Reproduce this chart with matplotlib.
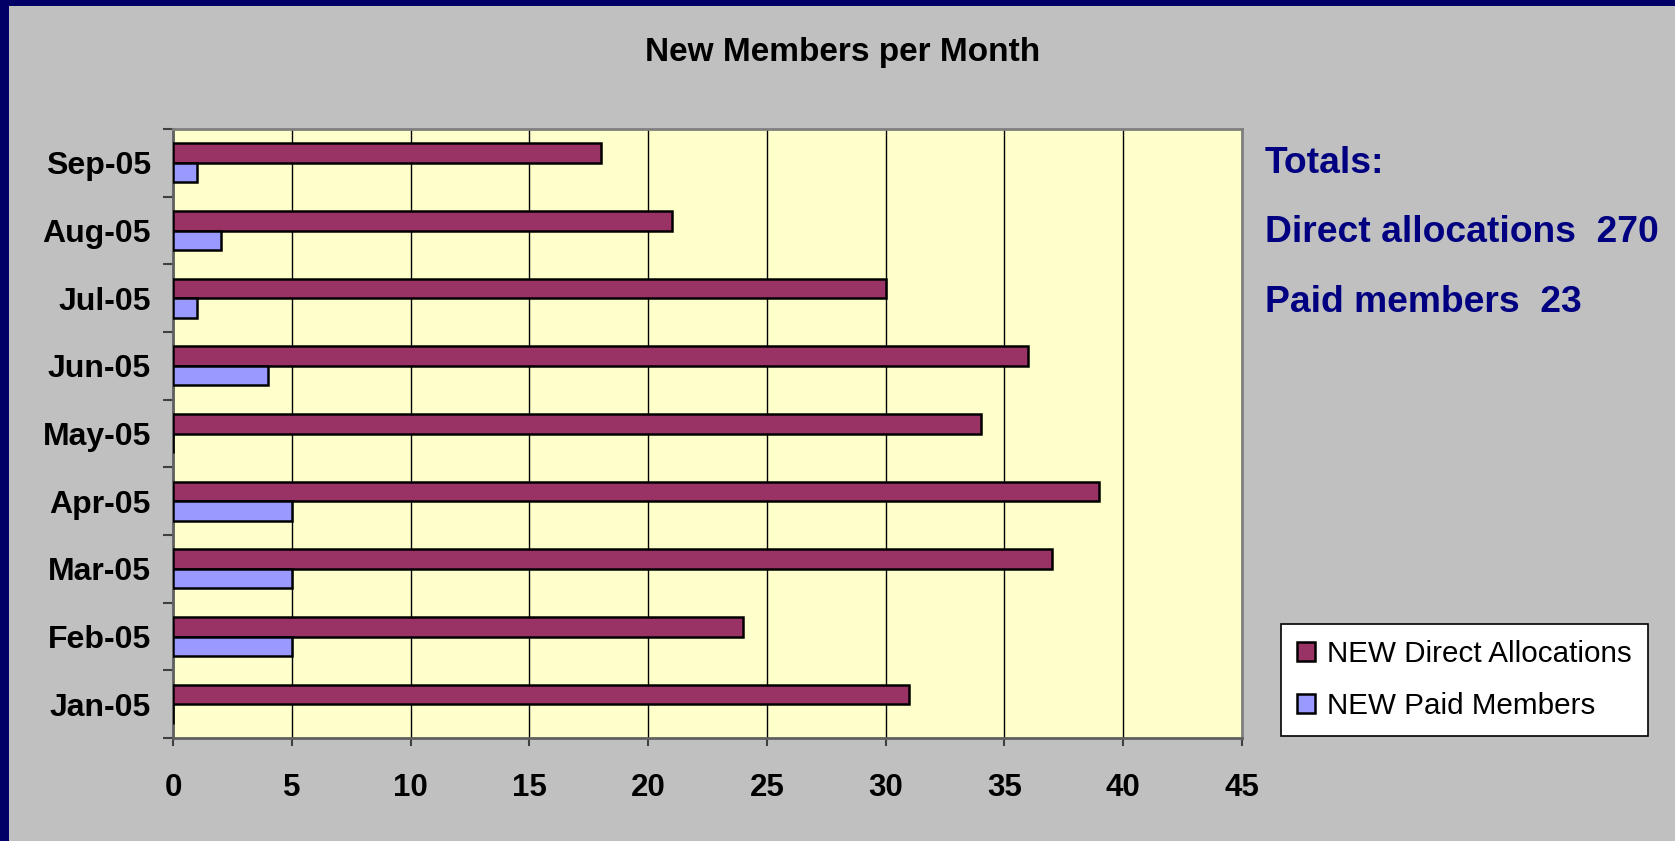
import matplotlib
matplotlib.use("Agg")
import matplotlib.pyplot as plt
from matplotlib.patches import Rectangle, Patch
import numpy as np

# Chart data
months = ["Jan-05", "Feb-05", "Mar-05", "Apr-05", "May-05", "Jun-05", "Jul-05", "Aug-05", "Sep-05"]
direct_alloc = [31, 24, 37, 39, 34, 36, 30, 21, 18]
paid_members = [0, 5, 5, 5, 0, 4, 1, 2, 1]
x_ticks = [0, 5, 10, 15, 20, 25, 30, 35, 40, 45]

plt.rcParams["font.family"] = ["Liberation Sans", "DejaVu Sans"]

fig = plt.figure(figsize=(16.75, 8.41), dpi=100)
fig.patch.set_facecolor("#C0C0C0")

# navy frame on top and left
fig.patches.append(Rectangle((0, 1 - 6 / 841), 1, 6 / 841, transform=fig.transFigure,
                             facecolor="#000066", edgecolor="none", zorder=0))
fig.patches.append(Rectangle((0, 0), 9 / 1675, 1, transform=fig.transFigure,
                             facecolor="#000066", edgecolor="none", zorder=0))

ax = fig.add_axes([173 / 1675, 1 - 738 / 841, (1242 - 173) / 1675, (738 - 129) / 841])
ax.set_facecolor("#FFFFCC")

y = np.arange(len(months))
h = 0.29
ax.barh(y + h / 2, direct_alloc, height=h, color="#993366", edgecolor="black", linewidth=1.8, zorder=3)
ax.barh(y - h / 2, paid_members, height=h, color="#9999FF", edgecolor="black", linewidth=1.8, zorder=3)

ax.set_xlim(0, 45)
ax.set_ylim(-0.5, len(months) - 0.5)
ax.set_xticks(x_ticks)
ax.set_xticklabels([str(v) for v in x_ticks], fontsize=22.5, fontweight="bold")
ax.set_yticks(y)
ax.set_yticklabels(months, fontsize=23, fontweight="bold")
ax.set_yticks(np.arange(-0.5, len(months)), minor=True)
ax.tick_params(axis="y", which="major", length=0, pad=16)
ax.tick_params(axis="y", which="minor", length=7, width=1.5, color="#404040", direction="out")
ax.tick_params(axis="x", length=6, width=1.5, color="#404040", direction="out", pad=19)
ax.grid(axis="x", color="black", linewidth=1, zorder=1)
ax.set_axisbelow(True)

for side in ["top", "right"]:
    ax.spines[side].set_color("#808080")
    ax.spines[side].set_linewidth(2)
for side in ["left", "bottom"]:
    ax.spines[side].set_color("#606060")
    ax.spines[side].set_linewidth(2)

fig.text(843 / 1675, 1 - 52 / 841, "New Members per Month", ha="center", va="center",
         fontsize=24, fontweight="bold", color="black")

navy = "#000080"
fig.text(1265 / 1675, 1 - 173 / 841, "Totals:", ha="left", va="baseline",
         fontsize=26.8, fontweight="bold", color=navy)
fig.text(1265 / 1675, 1 - 242 / 841, "Direct allocations  " + str(sum(direct_alloc)), ha="left",
         va="baseline", fontsize=26.8, fontweight="bold", color=navy)
fig.text(1265 / 1675, 1 - 312 / 841, "Paid members  " + str(sum(paid_members)), ha="left",
         va="baseline", fontsize=26.8, fontweight="bold", color=navy)

handles = [Patch(facecolor="#993366", edgecolor="black", linewidth=1.8),
           Patch(facecolor="#9999FF", edgecolor="black", linewidth=1.8)]
leg = fig.legend(handles, ["NEW Direct Allocations", "NEW Paid Members"],
                 loc="upper left", bbox_to_anchor=(1281 / 1675, 1 - 624 / 841),
                 fontsize=21.3, frameon=True, fancybox=False, framealpha=1,
                 edgecolor="black", handlelength=0.6, handleheight=0.6,
                 handletextpad=0.4, labelspacing=0.8, borderpad=0.55, borderaxespad=0)
leg.get_frame().set_linewidth(1.2)

fig.savefig("out.png", dpi=100, facecolor=fig.get_facecolor())
